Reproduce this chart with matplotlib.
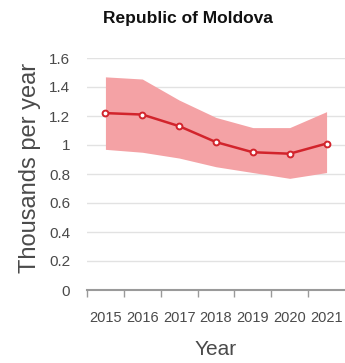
import matplotlib
matplotlib.use('Agg')
import matplotlib.pyplot as plt
import numpy as np

# values in thousands per year
years = ['2015', '2016', '2017', '2018', '2019', '2020', '2021']
estimate = [1.22, 1.21, 1.13, 1.02, 0.95, 0.94, 1.01]
upper = [1.47, 1.455, 1.31, 1.19, 1.12, 1.12, 1.23]
lower = [0.97, 0.95, 0.91, 0.85, 0.81, 0.77, 0.81]
y_ticks = [0, 0.2, 0.4, 0.6, 0.8, 1.0, 1.2, 1.4, 1.6]
y_tick_labels = ['0', '0.2', '0.4', '0.6', '0.8', '1', '1.2', '1.4', '1.6']

font = ['Liberation Sans', 'DejaVu Sans']

line_red = '#d2242c'
band_red = '#f4a2a5'
tick_grey = '#4a4a4a'


def main():
    fig = plt.figure(figsize=(3.45, 3.63), dpi=100)
    ax = fig.add_axes([87 / 345, 1 - 290 / 363, 1 - 87 / 345, (290 - 58) / 363])

    x = np.arange(len(years))
    ax.fill_between(x, lower, upper, color=band_red, linewidth=0, zorder=2)
    ax.plot(x, estimate, '-o', color=line_red, linewidth=1.8,
            markersize=4.2, markerfacecolor='white', markeredgecolor=line_red,
            markeredgewidth=1.4, zorder=3)

    ax.set_xlim(-0.5, len(years) - 0.5)
    ax.set_ylim(0, 1.6)

    ax.set_yticks(y_ticks)
    ax.set_yticklabels(y_tick_labels, family=font, fontsize=11, color=tick_grey)
    ax.set_xticks(x)
    ax.set_xticklabels(years, family=font, fontsize=10.5, color=tick_grey)
    ax.set_xticks(np.arange(len(years)) - 0.5, minor=True)
    ax.tick_params(axis='y', length=0, pad=12)
    ax.tick_params(axis='x', which='major', length=0, pad=15)
    ax.tick_params(axis='x', which='minor', length=5, width=1, color='#9a9a9a')

    for v in y_ticks[1:]:
        ax.axhline(v, color='#e2e2e2', linewidth=1, zorder=1)

    for side in ['top', 'right', 'left']:
        ax.spines[side].set_visible(False)
    ax.spines['bottom'].set_color('#9a9a9a')
    ax.spines['bottom'].set_linewidth(1.5)

    ax.set_xlabel('Year', family=font, fontsize=15, color=tick_grey, labelpad=11)
    fig.text(30 / 345, 1 - 168 / 363, 'Thousands per year', rotation=90,
             ha='center', va='center', family=font, fontsize=17, color=tick_grey)
    fig.text(188 / 345, 1 - 18 / 363, 'Republic of Moldova', ha='center', va='center',
             family=font, fontsize=12.5, fontweight='bold', color='#111111')

    fig.savefig('out.png', dpi=100)


if __name__ == '__main__':
    main()
